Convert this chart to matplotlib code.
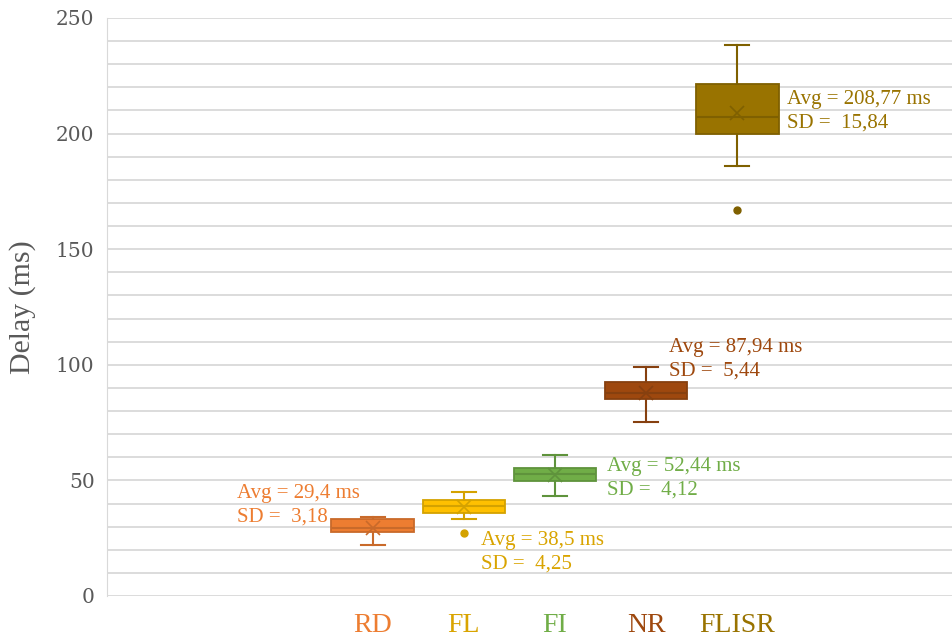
import matplotlib.pyplot as plt

# --- data ---
categories = ["RD", "FL", "FI", "NR", "FLISR"]
whisker_low = [22.1, 33.2, 43.3, 75.3, 186.1]
q1 = [27.8, 36.0, 49.9, 85.1, 199.8]
median = [29.6, 38.9, 52.8, 87.8, 207.2]
q3 = [33.2, 41.4, 55.2, 92.7, 221.3]
whisker_high = [34.2, 45.1, 61.1, 99.0, 238.2]
means = [29.4, 38.5, 52.44, 87.94, 208.77]
sds = [3.18, 4.25, 4.12, 5.44, 15.84]
outliers = [[], [27.1], [], [], [167.0]]

fills = ["#ED7D31", "#FFC000", "#70AD47", "#9E480E", "#997300"]
edges = ["#C96A2A", "#D4A200", "#5F933C", "#86400F", "#7F6000"]
text_cols = ["#ED7D31", "#D9A400", "#70AD47", "#9E480E", "#997300"]

# label anchor (left x, vertical centre) in data units
label_x = [-1.49, 1.19, 2.57, 3.25, 4.55]
label_y = [39.3, 19.0, 51.0, 102.5, 209.7]

plt.rcParams['font.family'] = ['Liberation Serif', 'DejaVu Serif']

fig = plt.figure(figsize=(9.52, 6.36), dpi=100)
ax = fig.add_axes([0.1124, 0.0629, 0.8876, 0.9088])

ax.set_ylim(0, 250)
ax.set_xlim(-2.92, 6.36)
ax.set_yticks(range(0, 251, 50))
ax.set_yticks(range(0, 251, 10), minor=True)
ax.grid(True, axis='y', which='both', color='#D9D9D9', lw=1.3)
ax.set_axisbelow(True)
for s in ['top', 'right', 'bottom']:
    ax.spines[s].set_visible(False)
ax.spines['left'].set_color('#D9D9D9')
ax.tick_params(axis='y', which='both', length=0, labelcolor='#595959', pad=9)
for lbl in ax.get_yticklabels():
    lbl.set_fontfamily('DejaVu Serif')
    lbl.set_fontsize(14.5)
ax.set_ylabel("Delay (ms)", fontsize=21.5, color='#595959', labelpad=14)

for i in range(len(categories)):
    st = dict(med=median[i], q1=q1[i], q3=q3[i], whislo=whisker_low[i],
              whishi=whisker_high[i], mean=means[i], fliers=outliers[i])
    ax.bxp([st], positions=[i], widths=0.91, patch_artist=True, showmeans=True,
           boxprops=dict(facecolor=fills[i], edgecolor=edges[i], lw=1.3),
           medianprops=dict(color=edges[i], lw=1.5),
           whiskerprops=dict(color=edges[i], lw=1.5),
           capprops=dict(color=edges[i], lw=1.5),
           capwidths=0.26,
           meanprops=dict(marker='x', markeredgecolor=edges[i], markersize=10, mew=1.2),
           flierprops=dict(marker='o', markerfacecolor=edges[i], markeredgecolor=edges[i], markersize=5))
    ax.text(label_x[i], label_y[i], f"Avg = {str(means[i]).replace('.', ',')} ms\nSD =  {str(sds[i]).replace('.', ',')}",
            color=text_cols[i], fontsize=15, va='center', ha='left', linespacing=1.35)

ax.set_xticks(range(len(categories)))
ax.set_xticklabels(categories, fontsize=20)
ax.tick_params(axis='x', length=0, pad=12)
for lbl, c in zip(ax.get_xticklabels(), text_cols):
    lbl.set_color(c)

fig.savefig("out.png", dpi=100)
